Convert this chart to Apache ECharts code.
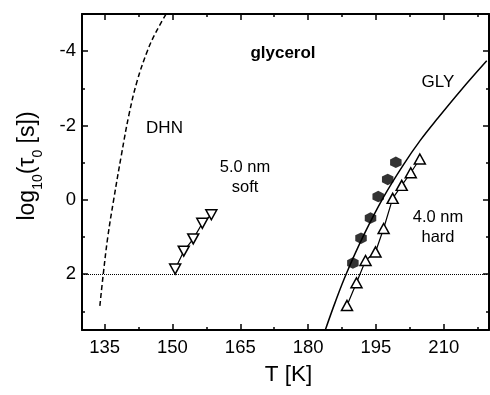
<!DOCTYPE html>
<html>
<head>
<meta charset="utf-8">
<script src="https://cdn.jsdelivr.net/npm/echarts@6/dist/echarts.min.js"></script>
<style>
  html, body { margin: 0; padding: 0; background: #fff; }
  #chart { width: 490px; height: 395px; }
</style>
</head>
<body>
<div id="chart"></div>
<script>
// Axis ticks
const tempTicks = [135, 150, 165, 180, 195, 210];
const tempMinorTicks = [142.5, 157.5, 172.5, 187.5, 202.5, 217.5];
const logTicks = [-4, -2, 0, 2];
const logMinorTicks = [-3, -1, 1, 3];

// 5.0 nm soft confinement (down triangles)
const soft5T = [150.6, 152.5, 154.6, 156.6, 158.6];
const soft5Log = [1.86, 1.38, 1.05, 0.63, 0.40];

// 4.0 nm hard confinement (up triangles)
const hard4T = [188.6, 190.7, 192.7, 194.9, 196.7, 198.7, 200.7, 202.7, 204.7];
const hard4Log = [2.84, 2.23, 1.63, 1.40, 0.77, -0.04, -0.39, -0.73, -1.10];

// bulk glycerol (filled hexagons)
const bulkT = [189.9, 191.7, 193.8, 195.5, 197.6, 199.4];
const bulkLog = [1.70, 1.03, 0.49, -0.09, -0.55, -1.01];

// GLY curve (solid)
const glyT = [183.8, 186.0, 188.4, 192.3, 196.8, 201.1, 204.8, 208.7, 213.8, 219.5];
const glyLog = [3.50, 2.75, 2.00, 0.95, -0.10, -0.95, -1.60, -2.20, -2.95, -3.74];

// DHN curve (dashed)
const dhnT = [133.95, 134.7, 135.7, 137.0, 138.7, 140.4, 142.2, 144.5, 146.3, 148.6];
const dhnLog = [2.85, 2.00, 1.00, 0.00, -1.20, -2.30, -3.20, -4.02, -4.50, -5.00];

// horizontal reference level
const refLevel = 2;

const font = '"Liberation Sans", Arial, Helvetica, sans-serif';
const pair = (xs, ys) => xs.map((x, i) => [x, ys[i]]);

function xAxisDef(position, ticks, len, main) {
  return {
    type: 'value', position: position, min: 130, max: 220,
    axisLine: { show: main, onZero: false, lineStyle: { color: '#000', width: 2 } },
    axisTick: { show: true, inside: true, length: len, customValues: ticks,
                lineStyle: { color: '#000', width: 1.5 } },
    axisLabel: { show: main && position === 'bottom', customValues: tempTicks,
                 fontSize: 18.5, color: '#000', fontFamily: font, margin: 8 },
    splitLine: { show: false }
  };
}
function yAxisDef(position, ticks, len, main) {
  return {
    type: 'value', position: position, min: -5, max: 3.5, inverse: true,
    axisLine: { show: main, onZero: false, lineStyle: { color: '#000', width: 2 } },
    axisTick: { show: true, inside: true, length: len, customValues: ticks,
                lineStyle: { color: '#000', width: 1.5 } },
    axisLabel: { show: main && position === 'left', customValues: logTicks,
                 fontSize: 18.5, color: '#000', fontFamily: font, margin: 6 },
    splitLine: { show: false }
  };
}

const xAxes = [
  xAxisDef('bottom', tempTicks, 6, true),
  xAxisDef('bottom', tempMinorTicks, 3, false),
  xAxisDef('top', tempTicks, 6, true),
  xAxisDef('top', tempMinorTicks, 3, false)
];
xAxes[0].name = 'T [K]';
xAxes[0].nameLocation = 'middle';
xAxes[0].nameGap = 33;
xAxes[0].nameTextStyle = { fontSize: 22.5, color: '#000', fontFamily: font, padding: [0, 0, 0, 6] };

const yAxes = [
  yAxisDef('left', logTicks, 6, true),
  yAxisDef('left', logMinorTicks, 3, false),
  yAxisDef('right', logTicks, 6, true),
  yAxisDef('right', logMinorTicks, 3, false)
];
yAxes[0].name = 'log{s|10}(τ{s|0} [s])';
yAxes[0].nameLocation = 'middle';
yAxes[0].nameGap = 43;
yAxes[0].nameTextStyle = {
  fontSize: 23, color: '#000', fontFamily: font, padding: [0, 0, 0, 12],
  rich: { s: { fontSize: 14, color: '#000', fontFamily: font, verticalAlign: 'bottom', padding: [0, 0, -6, 0] } }
};

const chart = echarts.init(document.getElementById('chart'), null, { renderer: 'canvas' });

const textStyle = (size, weight) => ({ fontSize: size, fontWeight: weight, fill: '#000', fontFamily: font, align: 'center', verticalAlign: 'middle' });

chart.setOption({
  animation: false,
  backgroundColor: '#fff',
  grid: { left: 82, right: 1, top: 14, bottom: 65 },
  xAxis: xAxes,
  yAxis: yAxes,
  series: [
    {
      type: 'line', data: pair(dhnT, dhnLog), smooth: 0.4, showSymbol: false,
      lineStyle: { color: '#000', width: 1.5, type: [5, 3] },
      markLine: {
        silent: true, symbol: 'none', label: { show: false },
        lineStyle: { color: '#000', width: 1, type: [1, 1] },
        data: [{ yAxis: refLevel }]
      }
    },
    {
      type: 'line', data: pair(glyT, glyLog), smooth: 0.4, showSymbol: false,
      lineStyle: { color: '#000', width: 1.5 }
    },
    {
      type: 'line', data: pair(soft5T, soft5Log), symbol: 'triangle', symbolRotate: 180,
      symbolSize: [11, 10], itemStyle: { color: '#fff', borderColor: '#000', borderWidth: 1.5 },
      lineStyle: { color: '#000', width: 1.2 }
    },
    {
      type: 'line', data: pair(hard4T, hard4Log), symbol: 'triangle',
      symbolSize: [11, 10], itemStyle: { color: '#fff', borderColor: '#000', borderWidth: 1.5 },
      lineStyle: { color: '#000', width: 1.2 }
    },
    {
      type: 'scatter', data: pair(bulkT, bulkLog),
      symbol: 'path://M0,-1 L0.866,-0.5 L0.866,0.5 L0,1 L-0.866,0.5 L-0.866,-0.5 Z',
      symbolSize: 11.5, itemStyle: { color: '#000' }
    }
  ],
  graphic: [
    { type: 'text', x: 283, y: 53, style: Object.assign({ text: 'glycerol' }, textStyle(17, 'bold')) },
    { type: 'text', x: 164.5, y: 128, style: Object.assign({ text: 'DHN' }, textStyle(17, 'normal')) },
    { type: 'text', x: 438, y: 82, style: Object.assign({ text: 'GLY' }, textStyle(17, 'normal')) },
    { type: 'text', x: 245, y: 167, style: Object.assign({ text: '5.0 nm' }, textStyle(16.5, 'normal')) },
    { type: 'text', x: 245, y: 187, style: Object.assign({ text: 'soft' }, textStyle(16.5, 'normal')) },
    { type: 'text', x: 438, y: 217, style: Object.assign({ text: '4.0 nm' }, textStyle(16.5, 'normal')) },
    { type: 'text', x: 438, y: 237, style: Object.assign({ text: 'hard' }, textStyle(16.5, 'normal')) }
  ]
});
</script>
</body>
</html>
